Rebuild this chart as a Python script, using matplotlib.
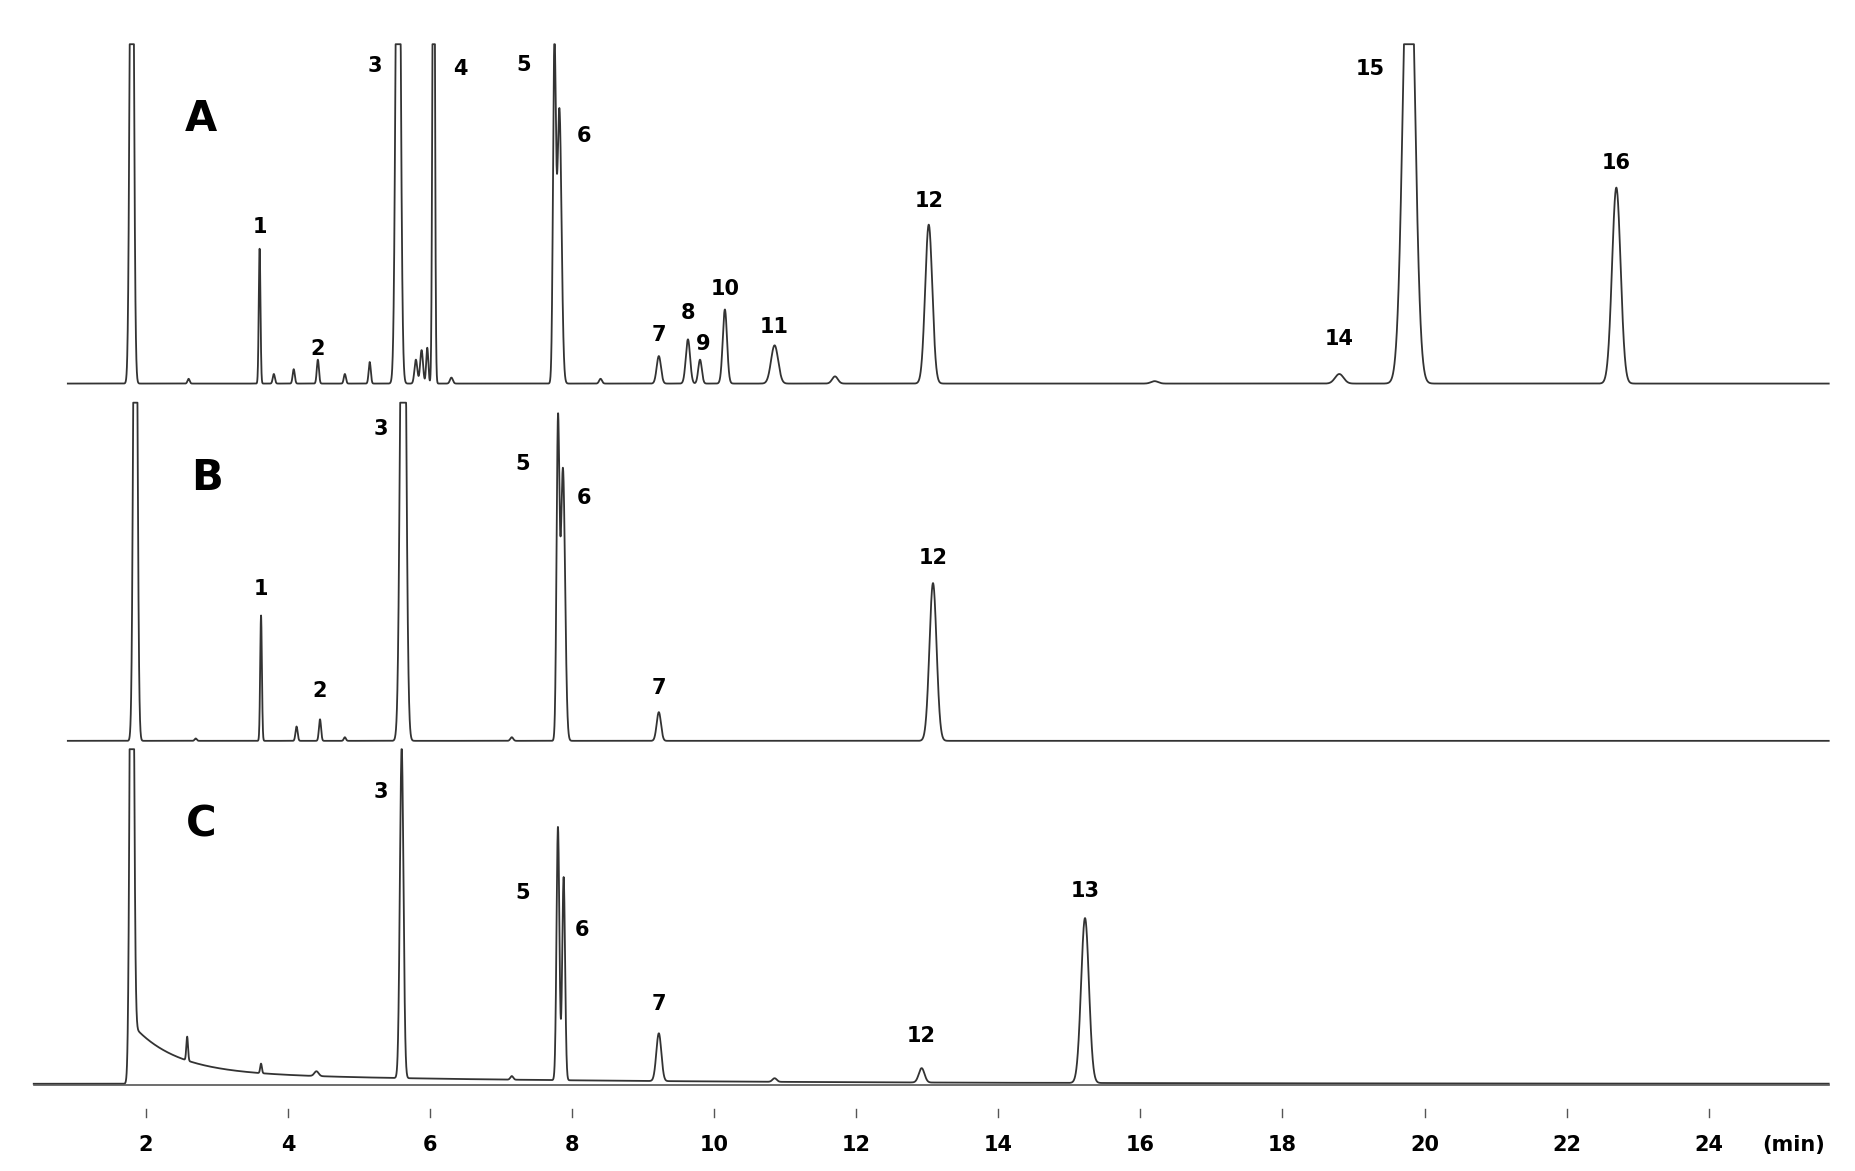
import numpy as np
import matplotlib.pyplot as plt

# retention times (min), heights (px above baseline), widths (sigma, min)
A_rt = [1.8, 2.6, 3.6, 3.8, 4.08, 4.42, 4.8, 5.15, 5.55, 5.8, 5.88, 5.96, 6.05, 6.3, 7.75, 7.82, 8.4,
        9.22, 9.63, 9.8, 10.15, 10.85, 11.7, 13.02, 16.2, 18.8, 19.78, 22.7]
A_h = [600, 4, 113, 8, 12, 20, 8, 18, 600, 20, 28, 30, 600, 5, 276, 230, 4,
       23, 37, 20, 62, 32, 6, 133, 2, 8, 420, 164]
A_w = [0.025, 0.015, 0.012, 0.015, 0.015, 0.015, 0.015, 0.015, 0.03, 0.02, 0.02, 0.015, 0.015, 0.02, 0.02, 0.03, 0.02,
       0.03, 0.03, 0.025, 0.03, 0.05, 0.04, 0.05, 0.05, 0.06, 0.08, 0.06]

B_rt = [1.85, 2.7, 3.62, 4.12, 4.45, 4.8, 5.62, 7.15, 7.8, 7.87, 9.22, 13.08]
B_h = [600, 2, 105, 12, 18, 3, 600, 3, 258, 228, 24, 132]
B_w = [0.025, 0.015, 0.012, 0.015, 0.015, 0.015, 0.035, 0.02, 0.02, 0.03, 0.03, 0.05]

C_rt = [1.8, 2.58, 3.62, 4.4, 5.6, 7.15, 7.8, 7.88, 9.22, 10.85, 12.92, 15.22]
C_h = [600, 20, 8, 4, 277, 3, 212, 170, 40, 3, 12, 138]
C_w = [0.025, 0.012, 0.012, 0.03, 0.025, 0.02, 0.02, 0.02, 0.035, 0.03, 0.04, 0.055]
C_tail = (40, 0.6)  # solvent tail: amplitude px, decay constant min

panels = ["A", "B", "C"]
baselines = [659, 360, 73]
clips = [284, 283, 280]
starts = [0.9, 0.9, 0.42]
peak_sets = [(A_rt, A_h, A_w), (B_rt, B_h, B_w), (C_rt, C_h, C_w)]

labels_A = [("1", 3.6, 790), ("2", 4.42, 688), ("3", 5.22, 925), ("4", 6.42, 922), ("5", 7.32, 926),
            ("6", 8.16, 866), ("7", 9.22, 700), ("8", 9.63, 718), ("9", 9.85, 692), ("10", 10.15, 738),
            ("11", 10.85, 706), ("12", 13.02, 812), ("14", 18.8, 696), ("15", 19.23, 922), ("16", 22.7, 844)]
labels_B = [("1", 3.62, 487), ("2", 4.45, 402), ("3", 5.3, 621), ("5", 7.3, 592), ("6", 8.16, 563),
            ("7", 9.22, 404), ("12", 13.08, 513)]
labels_C = [("3", 5.3, 317), ("5", 7.3, 233), ("6", 8.14, 202), ("7", 9.22, 140), ("12", 12.92, 113), ("13", 15.22, 234)]
panel_pos = [(2.78, 880), (2.86, 580), (2.78, 290)]

xticks = [2, 4, 6, 8, 10, 12, 14, 16, 18, 20, 22, 24]

fig = plt.figure(figsize=(18.55, 11.71), dpi=100)
ax = fig.add_axes([0, 0, 1, 1])
ax.set_xlim(-0.055, 26.06)
ax.set_ylim(0, 980)
ax.axis("off")

for i in range(3):
    x = np.linspace(starts[i], 25.69, 15000)
    rt, h, w = peak_sets[i]
    y = np.zeros_like(x)
    for r, hh, ww in zip(rt, h, w):
        y += hh * np.exp(-0.5 * ((x - r) / ww) ** 2)
    if i == 2:
        amp, tau = C_tail
        on = x > 1.8
        y += np.where(on, amp * np.exp(-(x - 1.8) / tau), 0) + np.where(on, 10 * np.exp(-(x - 1.8) / 5), 0)
    y = np.minimum(y, clips[i])
    ax.plot(x, baselines[i] + y, color="#333333", lw=1.3)

for lab in (labels_A, labels_B, labels_C):
    for t, xx, yy in lab:
        ax.text(xx, yy, t, ha="center", va="center", fontsize=15, fontweight="bold")
for p, (xx, yy) in zip(panels, panel_pos):
    ax.text(xx, yy, p, ha="center", va="center", fontsize=30, fontweight="bold")

ax.plot([0.42, 25.69], [72, 72], color="#555555", lw=1.2)
for t in xticks:
    ax.plot([t, t], [45, 52], color="#555555", lw=1)
    ax.text(t, 22, str(t), ha="center", va="center", fontsize=15, fontweight="bold")
ax.text(25.2, 22, "(min)", ha="center", va="center", fontsize=15, fontweight="bold")

fig.savefig("out.png", dpi=100)
